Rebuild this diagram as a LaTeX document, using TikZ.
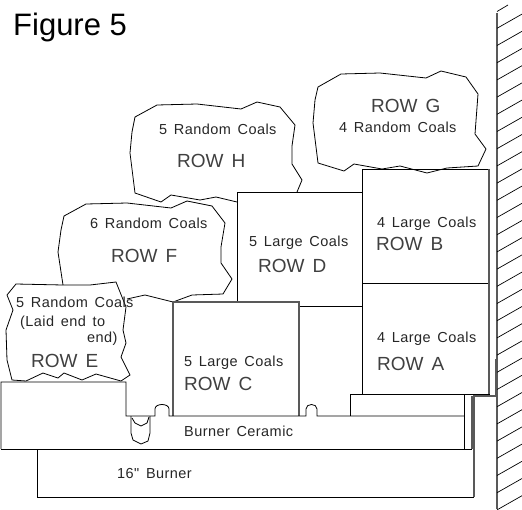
\documentclass[tikz,border=0pt]{standalone}
\usepackage{fontspec}
\setmainfont{Liberation Sans}
\newfontfamily\cadfont[WordSpace=1.5,LetterSpace=3]{Liberation Sans}
\newfontfamily\cadlarge[WordSpace=1.5]{Liberation Sans}
\tikzset{
  ln/.style={draw=black,line width=0.8pt,line join=miter},
  glin/.style={draw=black!65,line width=1.1pt},
  small/.style={anchor=base west,inner sep=0pt,font=\cadfont\fontsize{14.5}{14.5}\selectfont,text=black!85},
  large/.style={anchor=base west,inner sep=0pt,font=\cadlarge\fontsize{19}{19}\selectfont,text=black!75},
  hatch/.style={draw=black,line width=0.7pt}
}
\begin{document}
\begin{tikzpicture}[x=1pt,y=-1pt]
\useasboundingbox (0,0) rectangle (522,509);
\clip (0,0) rectangle (522,509);
% Row H
\draw[ln] (237,202) -- (216,197) -- (200,200) -- (171,195) -- (161,202) -- (135,193) -- (130,153) -- (132,132) -- (135,117) -- (157,105) -- (197,104) -- (241,109) -- (257,102) -- (280,107) -- (295,125) -- (292,146) -- (292,164) -- (302,180) -- (297,192);
% Row G
\draw[ln] (318,87) -- (341,74) -- (380,73) -- (426,78) -- (441,71) -- (466,77) -- (478,94) -- (475,134) -- (486,149) -- (478,166) -- (447,168) -- (427,173) -- (400,166) -- (382,169) -- (354,164) -- (344,171) -- (318,163) -- (313,123) -- (315,100) -- cycle;
% Row F
\draw[ln] (63,285) -- (58,252) -- (61,230) -- (64,216) -- (86,204) -- (127,203) -- (171,208) -- (187,201) -- (212,206) -- (225,223) -- (221,247) -- (221,263) -- (232,279) -- (223,294) -- (192,295) -- (173,302) -- (145,295) -- (127,299);
% Row E
\draw[ln] (16,284) -- (63,285) -- (90,285) -- (116,282) -- (126,307) -- (123,330) -- (126,343) -- (121,357) -- (130,375) -- (121,381) -- (96,374) -- (82,380) -- (64,373) -- (58,378) -- (43,373) -- (26,381) -- (12,380) -- (7,360) -- (6,330) -- (13,310) -- (7,295) -- cycle;
% Row D
\draw[ln] (237,302) -- (237,192) -- (363,192);
% Row B and A
\draw[ln] (362,169) rectangle (489,283);
\draw[ln] (362,283) rectangle (489,394);
\draw[ln] (299,306) -- (362,306);
\draw[glin] (489,169) -- (489,394);
% Row C
\draw[glin] (173,416) -- (173,302) -- (299,302) -- (299,416);
% Ceramic outline
\draw[ln] (1,449) -- (1,382) -- (126,382) -- (126,416) -- (155,416) -- (155,409) .. controls (155,403) and (169,403) .. (169,409) -- (169,416) -- (306,416) -- (306,409) .. controls (306,403) and (317,403) .. (317,409) -- (317,416) -- (464,416);
\draw[ln] (1,449) -- (472,449);
% Pilot
\draw[ln] (131,416) -- (131,433) -- (133,440) -- (141,444) -- (148,441) -- (150,433) -- (150,416);
\draw[ln] (132,418) -- (135,423) -- (141,426) -- (147,423) -- (149,417);
% Step and right side
\draw[ln] (350,416) -- (350,394) -- (489,394);
\draw[ln] (464,394) -- (464,449);
\draw[glin] (472,396) -- (472,449);
\draw[glin] (496,359) -- (496,396) -- (474,396) -- (474,497);
% Burner
\draw[ln] (37,449) -- (37,497) -- (474,497);
% Wall
\draw[glin] (497,13) -- (497,509);
\foreach \k in {-1,0,...,28}{
  \pgfmathsetmacro{\ya}{28.3+17.2*\k}
  \pgfmathsetmacro{\yb}{\ya-14.2}
  \ifnum\k=-1
    \draw[hatch] (497,11.5) -- (508,5);
  \else
    \draw[hatch] (497,\ya) -- (522,\yb);
  \fi
}
% Texts
\node[anchor=base west,inner sep=0pt,font=\fontsize{31}{31}\selectfont] (title) at (13,35) {Figure 5};
\node[small] (th) at (159,134) {5 Random Coals};
\node[large] (rh) at (177,167) {ROW H};
\node[small] (tf) at (90,228) {6 Random Coals};
\node[large] (rf) at (111,262) {ROW F};
\node[large] (rg) at (371,112) {ROW G};
\node[small] (tg) at (339,132) {4 Random Coals};
\node[small] (tb) at (377,227) {4 Large Coals};
\node[large] (rb) at (376,250) {ROW B};
\node[small] (td) at (249,246) {5 Large Coals};
\node[large] (rd) at (258,272) {ROW D};
\node[small] (te) at (16,307) {5 Random Coals};
\node[small] (te2) at (20,326) {(Laid end to};
\node[small] (te3) at (87,342) {end)};
\node[large] (re) at (31,367) {ROW E};
\node[small] (tc) at (184,366) {5 Large Coals};
\node[large] (rc) at (184,390) {ROW C};
\node[small] (tce) at (184,436) {Burner Ceramic};
\node[small] (tbu) at (117,478) {16" Burner};
\node[small] (ta) at (377,342) {4 Large Coals};
\node[large] (ra) at (377,370) {ROW A};
\end{tikzpicture}
\end{document}
